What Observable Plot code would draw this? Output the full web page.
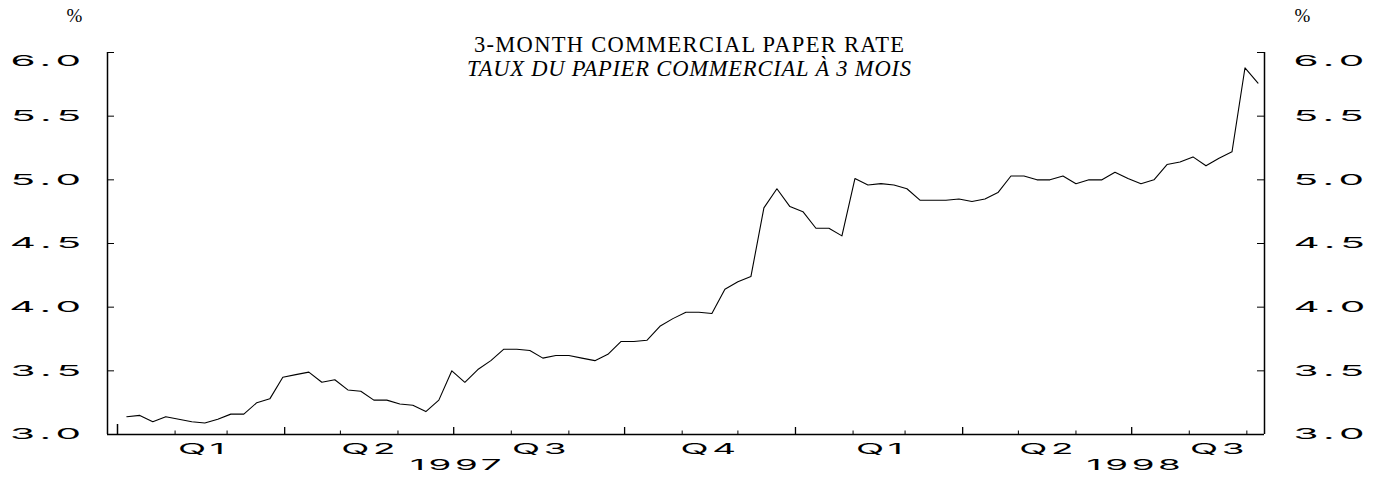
<!DOCTYPE html>
<html>
<head>
<meta charset="utf-8">
<script src="https://cdn.jsdelivr.net/npm/d3@7"></script>
<script src="https://cdn.jsdelivr.net/npm/@observablehq/plot@0.6"></script>
<style>
  body { margin: 0; background: #fff; }
  #chart { width: 1377px; height: 478px; }
</style>
</head>
<body>
<div id="chart"></div>
<script>
// ---- data (weekly observations, %) ----
const firstWeek = "1997-01-06";
const rates = [
  3.14, 3.15, 3.10, 3.14, 3.12, 3.10, 3.09, 3.12, 3.16, 3.16,
  3.25, 3.28, 3.45, 3.47, 3.49, 3.41, 3.43, 3.35, 3.34, 3.27,
  3.27, 3.24, 3.23, 3.18, 3.27, 3.50, 3.41, 3.51, 3.58, 3.67,
  3.67, 3.66, 3.60, 3.62, 3.62, 3.60, 3.58, 3.63, 3.73, 3.73,
  3.74, 3.85, 3.91, 3.96, 3.96, 3.95, 4.14, 4.20, 4.24, 4.78,
  4.93, 4.79, 4.75, 4.62, 4.62, 4.56, 5.01, 4.96, 4.97, 4.96,
  4.93, 4.84, 4.84, 4.84, 4.85, 4.83, 4.85, 4.90, 5.03, 5.03,
  5.00, 5.00, 5.03, 4.97, 5.00, 5.00, 5.06, 5.01, 4.97, 5.00,
  5.12, 5.14, 5.18, 5.11, 5.17, 5.22, 5.88, 5.76
];
const yTicks = [3.0, 3.5, 4.0, 4.5, 5.0, 5.5, 6.0];
const quarterLabels = ["Q1", "Q2", "Q3", "Q4", "Q1", "Q2", "Q3"];
const quarterMids = ["1997-02-15", "1997-05-16", "1997-08-16", "1997-11-15", "1998-02-15", "1998-05-16", "1998-08-16"];
const yearLabels = ["1997", "1998"];
const yearMids = ["1997-07-02", "1998-07-02"];
const titleText = "3-MONTH COMMERCIAL PAPER RATE";
const subtitleText = "TAUX DU PAPIER COMMERCIAL À 3 MOIS";
const unitText = "%";

// ---- layout ----
const W = 1377, H = 478;
const mL = 107, mR = 113, mT = 52, mB = 44;
const plotW = W - mL - mR, plotH = H - mT - mB;
const xStart = new Date("1996-12-26T14:47:00Z");
const xEnd = new Date("1998-09-10T12:00:00Z");

const series = rates.map((v, i) => ({date: d3.utcDay.offset(new Date(firstWeek), 7 * i), value: v}));
const months = d3.utcMonth.range(new Date("1997-01-01"), new Date("1998-09-02"));
const yearStartTicks = months.filter((d, i) => i === 0);
const quarterTicks = months.filter((d, i) => i > 0 && d.getUTCMonth() % 3 === 0);
const monthTicks = months.filter(d => d.getUTCMonth() % 3 !== 0);

const labelFont = "Inter, Liberation Sans, sans-serif";
const serifFont = "Liberation Serif, Times New Roman, serif";
const lbl = {fontFamily: labelFont, fontSize: 15, fontWeight: 400, fill: "#000", lineAnchor: "middle"};

const chart = Plot.plot({
  width: W, height: H,
  marginLeft: mL, marginRight: mR, marginTop: mT, marginBottom: mB,
  style: {background: "#fff"},
  x: {type: "utc", domain: [xStart, xEnd], axis: null},
  y: {domain: [3, 6], axis: null},
  marks: [
    // frame lines
    Plot.ruleX([xStart, xEnd], {stroke: "#000", strokeWidth: 1.5}),
    Plot.ruleY([3], {stroke: "#000", strokeWidth: 1.5}),
    // y ticks (inward)
    Plot.ruleY(yTicks, {y: d => d, insetRight: plotW - 7, stroke: "#000", strokeWidth: 1}),
    Plot.ruleY(yTicks, {y: d => d, insetLeft: plotW - 7, stroke: "#000", strokeWidth: 1}),
    // x ticks (upward)
    Plot.ruleX(monthTicks, {x: d => d, insetTop: plotH - 3.5, stroke: "#000", strokeWidth: 1}),
    Plot.ruleX(quarterTicks, {x: d => d, insetTop: plotH - 7, stroke: "#000", strokeWidth: 1.3}),
    Plot.ruleX(yearStartTicks, {x: d => d, insetTop: plotH - 10, stroke: "#000", strokeWidth: 1.5}),
    // data line
    Plot.line(series, {x: "date", y: "value", stroke: "#000", strokeWidth: 1.1}),
    // y labels
    Plot.text(yTicks.filter(d => d < 6), {...lbl, y: d => d, text: d => d.toFixed(1), frameAnchor: "left", textAnchor: "end", dx: -21}),
    Plot.text(yTicks.filter(d => d < 6), {...lbl, y: d => d, text: d => d.toFixed(1), frameAnchor: "right", textAnchor: "start", dx: 29}),
    Plot.text(yTicks.filter(d => d >= 6), {...lbl, y: d => d, text: d => d.toFixed(1), frameAnchor: "left", textAnchor: "end", dx: -21, dy: 9}),
    Plot.text(yTicks.filter(d => d >= 6), {...lbl, y: d => d, text: d => d.toFixed(1), frameAnchor: "right", textAnchor: "start", dx: 29, dy: 9}),
    // x labels
    Plot.text(quarterMids, {...lbl, x: d => new Date(d), text: (d, i) => quarterLabels[i], frameAnchor: "bottom", textAnchor: "middle", dx: 2, dy: 15}),
    Plot.text(yearMids, {...lbl, x: d => new Date(d), text: (d, i) => yearLabels[i], frameAnchor: "bottom", textAnchor: "middle", dx: 2, dy: 31}),
    // titles
    Plot.text([titleText], {text: d => d, frameAnchor: "top", textAnchor: "middle", lineAnchor: "middle", dx: 3, dy: -8, fontFamily: serifFont, fontSize: 22.5, fill: "#000"}),
    Plot.text([subtitleText], {text: d => d, frameAnchor: "top", textAnchor: "middle", lineAnchor: "middle", dx: 3, dy: 16, fontFamily: serifFont, fontSize: 22.5, fontStyle: "italic", fill: "#000"}),
    // unit labels
    Plot.text([unitText], {text: d => d, frameAnchor: "top-left", textAnchor: "middle", lineAnchor: "middle", dx: -33, dy: -37, fontFamily: serifFont, fontSize: 19, fill: "#000"}),
    Plot.text([unitText], {text: d => d, frameAnchor: "top-right", textAnchor: "middle", lineAnchor: "middle", dx: 38, dy: -37, fontFamily: serifFont, fontSize: 19, fill: "#000"})
  ]
});

document.getElementById("chart").appendChild(chart);

// stretch the extended-style axis labels horizontally, set title tracking
d3.select(chart).selectAll("text").each(function() {
  const t = this.textContent;
  const tr = this.getAttribute("transform") || "";
  if (/^\d\.\d$/.test(t)) {
    this.setAttribute("transform", tr + " scale(2.7,1)");
    this.style.letterSpacing = "2px";
  } else if (/^(Q\d|\d{4})$/.test(t)) {
    this.setAttribute("transform", tr + " scale(2.45,1)");
    this.style.letterSpacing = "1.5px";
  } else if (t === titleText) {
    this.setAttribute("textLength", 430);
    this.setAttribute("lengthAdjust", "spacing");
  } else if (t === subtitleText) {
    this.setAttribute("textLength", 444);
    this.setAttribute("lengthAdjust", "spacing");
  }
});
</script>
</body>
</html>
